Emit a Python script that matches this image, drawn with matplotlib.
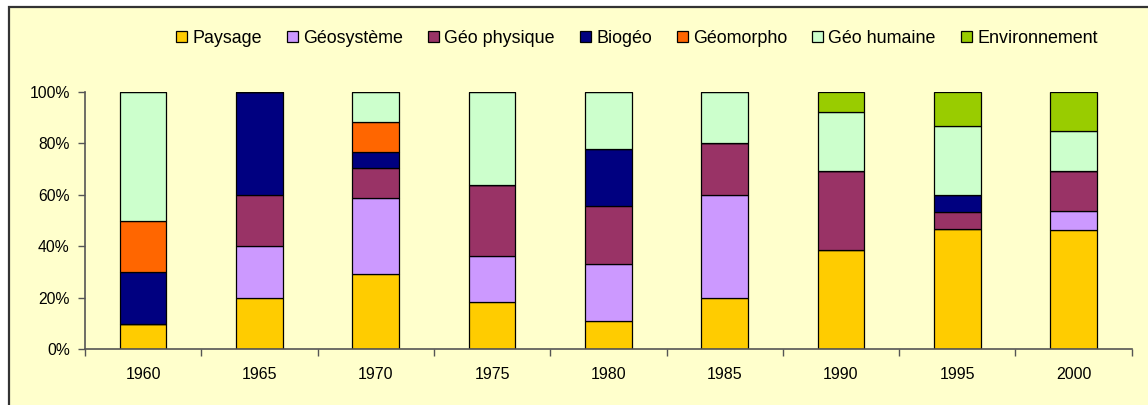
import numpy as np
from matplotlib import pyplot as plt
from matplotlib.patches import Rectangle

plt.rcParams['font.family'] = ['Liberation Sans', 'DejaVu Sans']

years = ['1960', '1965', '1970', '1975', '1980', '1985', '1990', '1995', '2000']

# parts in % for each year
paysage = [10, 20, 29.4, 18.2, 11.1, 20, 38.5, 46.7, 46.2]
geosysteme = [0, 20, 29.4, 18.2, 22.2, 40, 0, 0, 7.7]
geo_physique = [0, 20, 11.8, 27.3, 22.2, 20, 30.8, 6.7, 15.4]
biogeo = [20, 40, 5.9, 0, 22.2, 0, 0, 6.7, 0]
geomorpho = [20, 0, 11.8, 0, 0, 0, 0, 0, 0]
geo_humaine = [50, 0, 11.8, 36.4, 22.2, 20, 23.1, 26.7, 15.4]
environnement = [0, 0, 0, 0, 0, 0, 7.7, 13.3, 15.4]

series = [paysage, geosysteme, geo_physique, biogeo, geomorpho, geo_humaine, environnement]
names = ['Paysage', 'Géosystème', 'Géo physique', 'Biogéo', 'Géomorpho', 'Géo humaine', 'Environnement']
colors = ['#FFCC00', '#CC99FF', '#993366', '#000080', '#FF6600', '#CCFFCC', '#99CC00']

fig = plt.figure(figsize=(11.48, 4.05), dpi=100)
fig.patch.set_facecolor('white')

# yellow chart area with dark border (only top and left are visible)
fig.patches.append(Rectangle((8.5 / 1148, -0.1), 1.2, (405 - 6.5) / 405 + 0.1,
                             transform=fig.transFigure, facecolor='#FFFFCC',
                             edgecolor='#333333', lw=1.6, zorder=-5))

ax = fig.add_axes([85 / 1148, 1 - 349.3 / 405, (1131.7 - 85) / 1148, (349.3 - 92) / 405])
ax.set_facecolor('none')
ax.set_zorder(2)

x = np.arange(len(years))
bottom = np.zeros(len(years))
for vals, name, col in zip(series, names, colors):
    v = np.array(vals) / 100
    ax.bar(x, v, 0.4, bottom=bottom, color=col, edgecolor='black', linewidth=0.9, label=name)
    bottom += v

ax.set_xlim(-0.5, len(years) - 0.5)
ax.set_ylim(0, 1)
ax.set_yticks([0, 0.2, 0.4, 0.6, 0.8, 1.0])
ax.set_yticklabels(['0%', '20%', '40%', '60%', '80%', '100%'], fontsize=11.3)
ax.set_xticks(x)
ax.set_xticklabels(years, fontsize=11.5)
ax.set_xticks(np.arange(-0.5, len(years)), minor=True)
ax.tick_params(axis='x', which='major', length=0, pad=12.5)
ax.tick_params(axis='x', which='minor', length=5, width=1, color='#555555', direction='out')
ax.tick_params(axis='y', length=5, width=1, color='#555555', pad=6)

for s in ['top', 'right']:
    ax.spines[s].set_visible(False)
for s in ['left', 'bottom']:
    ax.spines[s].set_color('#555555')
    ax.spines[s].set_linewidth(1.2)

leg = fig.legend(loc='center', bbox_to_anchor=(637 / 1148, 1 - 38.5 / 405), ncol=7, frameon=False,
                 fontsize=12.9, handlelength=0.6, handleheight=0.6, handletextpad=0.3,
                 columnspacing=1.4)
leg.set_zorder(3)

plt.savefig('out.png', dpi=100, facecolor=fig.get_facecolor())
